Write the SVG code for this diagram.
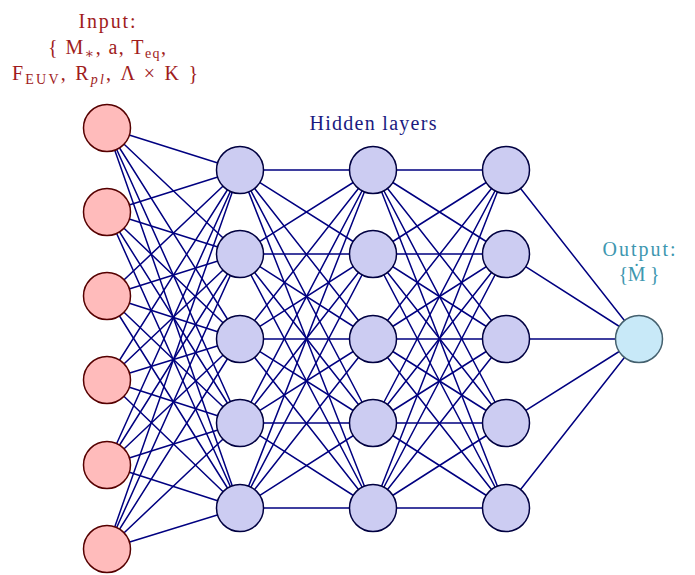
<svg xmlns="http://www.w3.org/2000/svg" width="695" height="575" viewBox="0 0 695 575">
<style>
text{font-family:"Liberation Serif","DejaVu Serif",serif;font-size:20px;text-anchor:middle}
.in{fill:#ffbbbb;stroke:#550000;stroke-width:1.5}
.hid{fill:#ccccf2;stroke:#000040;stroke-width:1.5}
.out{fill:#c8e9f8;stroke:#44606e;stroke-width:1.5}
.con{fill:none;stroke:#000080;stroke-width:1.5}
.sub{font-size:14px}
</style>
<rect width="695" height="575" fill="#fff"/>
<g id="connectors" class="con">
<path d="M107 128L240 170M107 128L240 254M107 128L240 339M107 128L240 423M107 128L240 508"/>
<path d="M107 212L240 170M107 212L240 254M107 212L240 339M107 212L240 423M107 212L240 508"/>
<path d="M107 296L240 170M107 296L240 254M107 296L240 339M107 296L240 423M107 296L240 508"/>
<path d="M107 380L240 170M107 380L240 254M107 380L240 339M107 380L240 423M107 380L240 508"/>
<path d="M107 465L240 170M107 465L240 254M107 465L240 339M107 465L240 423M107 465L240 508"/>
<path d="M107 549L240 170M107 549L240 254M107 549L240 339M107 549L240 423M107 549L240 508"/>
<path d="M240 170L373 170M240 170L373 254M240 170L373 339M240 170L373 423M240 170L373 508"/>
<path d="M240 254L373 170M240 254L373 254M240 254L373 339M240 254L373 423M240 254L373 508"/>
<path d="M240 339L373 170M240 339L373 254M240 339L373 339M240 339L373 423M240 339L373 508"/>
<path d="M240 423L373 170M240 423L373 254M240 423L373 339M240 423L373 423M240 423L373 508"/>
<path d="M240 508L373 170M240 508L373 254M240 508L373 339M240 508L373 423M240 508L373 508"/>
<path d="M373 170L506 170M373 170L506 254M373 170L506 339M373 170L506 423M373 170L506 508"/>
<path d="M373 254L506 170M373 254L506 254M373 254L506 339M373 254L506 423M373 254L506 508"/>
<path d="M373 339L506 170M373 339L506 254M373 339L506 339M373 339L506 423M373 339L506 508"/>
<path d="M373 423L506 170M373 423L506 254M373 423L506 339M373 423L506 423M373 423L506 508"/>
<path d="M373 508L506 170M373 508L506 254M373 508L506 339M373 508L506 423M373 508L506 508"/>
<path d="M506 170L639 339M506 254L639 339M506 339L639 339M506 423L639 339M506 508L639 339"/>
</g>
<g id="input-nodes">
<circle id="i1" class="in" cx="107" cy="128" r="23.5"/>
<circle id="i2" class="in" cx="107" cy="212" r="23.5"/>
<circle id="i3" class="in" cx="107" cy="296" r="23.5"/>
<circle id="i4" class="in" cx="107" cy="380" r="23.5"/>
<circle id="i5" class="in" cx="107" cy="465" r="23.5"/>
<circle id="i6" class="in" cx="107" cy="549" r="23.5"/>
</g>
<g id="hidden1">
<circle id="h1a" class="hid" cx="240" cy="170" r="23.5"/>
<circle id="h1b" class="hid" cx="240" cy="254" r="23.5"/>
<circle id="h1c" class="hid" cx="240" cy="339" r="23.5"/>
<circle id="h1d" class="hid" cx="240" cy="423" r="23.5"/>
<circle id="h1e" class="hid" cx="240" cy="508" r="23.5"/>
</g>
<g id="hidden2">
<circle id="h2a" class="hid" cx="373" cy="170" r="23.5"/>
<circle id="h2b" class="hid" cx="373" cy="254" r="23.5"/>
<circle id="h2c" class="hid" cx="373" cy="339" r="23.5"/>
<circle id="h2d" class="hid" cx="373" cy="423" r="23.5"/>
<circle id="h2e" class="hid" cx="373" cy="508" r="23.5"/>
</g>
<g id="hidden3">
<circle id="h3a" class="hid" cx="506" cy="170" r="23.5"/>
<circle id="h3b" class="hid" cx="506" cy="254" r="23.5"/>
<circle id="h3c" class="hid" cx="506" cy="339" r="23.5"/>
<circle id="h3d" class="hid" cx="506" cy="423" r="23.5"/>
<circle id="h3e" class="hid" cx="506" cy="508" r="23.5"/>
</g>
<g id="output-node">
<circle id="o1" class="out" cx="639" cy="339" r="23.5"/>
</g>
<g id="input-label" fill="#a01c1c">
<text x="107" y="28" textLength="57" lengthAdjust="spacing">Input:</text>
<text x="107" y="54" textLength="118" lengthAdjust="spacing">{ M<tspan class="sub" dy="4">∗</tspan><tspan dy="-4">, a, T</tspan><tspan class="sub" dy="4">eq</tspan><tspan dy="-4">,</tspan></text>
<text x="105" y="80" textLength="186" lengthAdjust="spacing">F<tspan class="sub" dy="4">EUV</tspan><tspan dy="-4">, R</tspan><tspan class="sub" dy="4" font-style="italic">pl</tspan><tspan dy="-4">, Λ × K }</tspan></text>
</g>
<g id="hidden-label" fill="#1a1a80">
<text x="373" y="130" textLength="127" lengthAdjust="spacing">Hidden layers</text>
</g>
<g id="output-label" fill="#3e97b0">
<text x="639" y="256" textLength="73" lengthAdjust="spacing">Output:</text>
<text x="639" y="281" textLength="41" lengthAdjust="spacing">{Ṁ }</text>
</g>
</svg>
